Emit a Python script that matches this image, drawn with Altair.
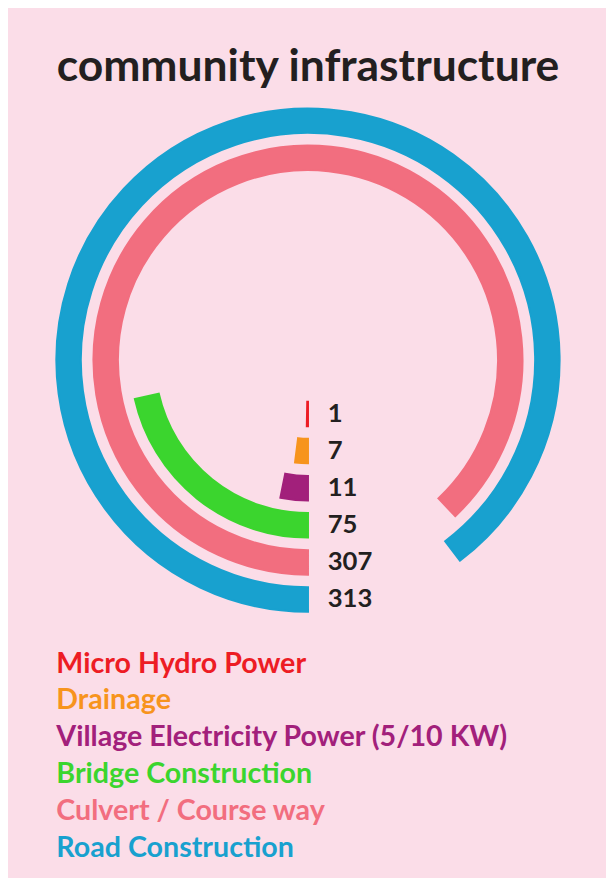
import math
import altair as alt
import pandas as pd

categories = [
    "Micro Hydro Power",
    "Drainage",
    "Village Electricity Power (5/10 KW)",
    "Bridge Construction",
    "Culvert / Course way",
    "Road Construction",
]
values = [1, 7, 11, 75, 307, 313]
colors = ["#ed1c24", "#f7941d", "#a2207b", "#3bd52e", "#f26e7f", "#18a1cf"]

BG = "#fbdde8"
FONT = "Lato"
INK = "#231f20"

df = pd.DataFrame({"category": categories, "value": values})
df["ring"] = range(len(df))
df["label"] = df["value"].astype(str)

theta_scale = alt.Scale(domain=[0, 349], range=[math.pi, 3 * math.pi])
radius_scale = alt.Scale(type="linear", domain=[0, 5], range=[67, 255], zero=False)
color_scale = alt.Scale(domain=categories, range=colors)

base = alt.Chart(df).transform_calculate(
    zero="0",
    r_in="datum.ring - 0.66",
    r_mid="datum.ring - 0.33",
)

arcs = base.mark_arc(strokeWidth=2).encode(
    theta=alt.Theta("value:Q", scale=theta_scale, stack=None),
    theta2=alt.Theta2("zero:Q"),
    radius=alt.Radius("ring:Q", scale=radius_scale),
    radius2=alt.Radius2("r_in:Q"),
    color=alt.Color("category:N", scale=color_scale, legend=None),
    stroke=alt.Stroke("category:N", scale=color_scale, legend=None),
)

nums = base.mark_text(
    align="left", baseline="middle", dx=20, font=FONT, fontWeight="bold",
    fontSize=26, color=INK,
).encode(
    theta=alt.Theta("zero:Q", scale=theta_scale, stack=None),
    radius=alt.Radius("r_mid:Q", scale=radius_scale),
    text="label:N",
)

radial = alt.layer(arcs, nums).properties(width=604, height=520)

legend = alt.Chart(df).mark_text(
    align="left", baseline="middle", font=FONT, fontWeight="bold", fontSize=29,
).encode(
    x=alt.value(47),
    y=alt.Y("category:N", sort=categories, axis=None,
            scale=alt.Scale(paddingInner=0, paddingOuter=0)),
    text="category:N",
    color=alt.Color("category:N", scale=color_scale, legend=None),
).properties(width=604, height=224)

chart = alt.vconcat(radial, legend, spacing=29).properties(
    title=alt.TitleParams(
        "community infrastructure", font=FONT, fontSize=45, fontWeight="bold",
        color=INK, anchor="middle", offset=14,
    ),
    background=BG,
    padding={"left": 2, "right": 0, "top": 32, "bottom": 6},
).configure_view(stroke=None)

chart.save("out.html", embed_options={"renderer": "svg", "actions": False})
